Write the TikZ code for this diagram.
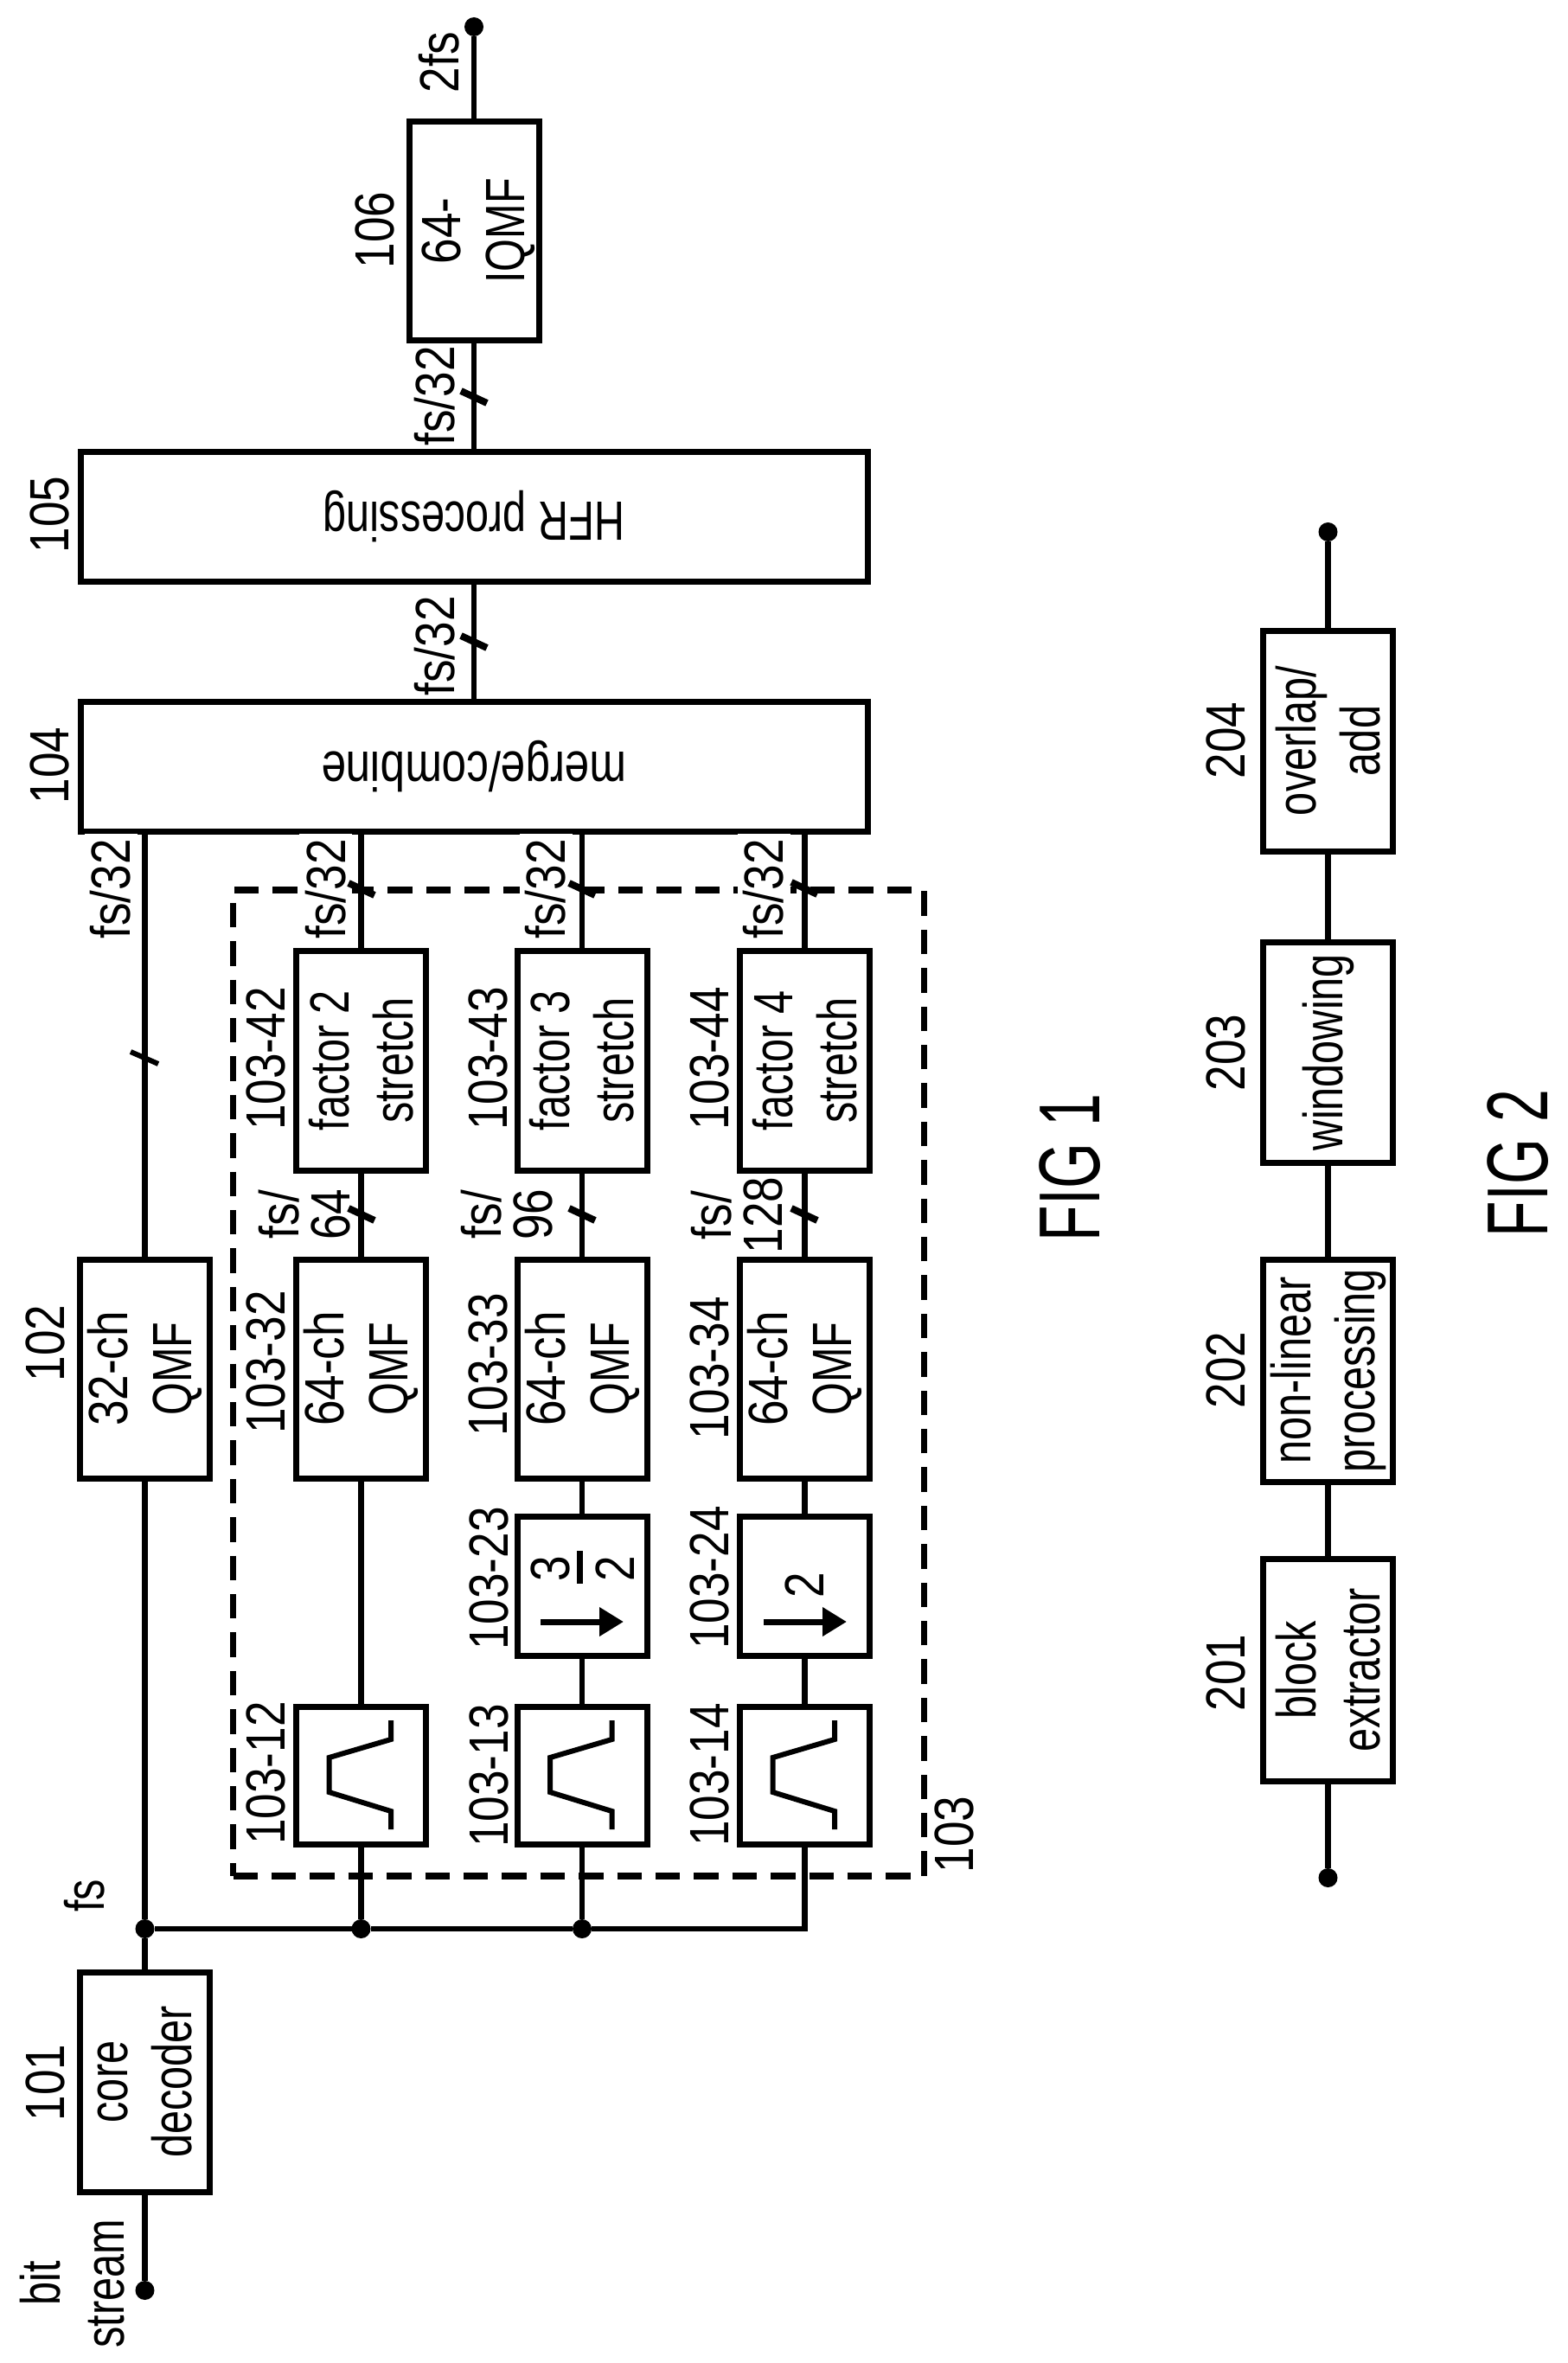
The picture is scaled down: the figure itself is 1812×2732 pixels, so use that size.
\documentclass[tikz,border=0pt]{standalone}
\usepackage{fontspec}
\usepackage{graphicx}
\setmainfont[FakeStretch=0.76]{Liberation Sans}
\newfontfamily\figfont[FakeStretch=0.68]{Liberation Sans}
\newfontfamily\numf[FakeStretch=0.83]{Liberation Sans}
\newfontfamily\widef[FakeStretch=0.8]{Liberation Sans}
\usetikzlibrary{arrows.meta}
\tikzset{
  wire/.style={line width=6.5pt},
  slashline/.style={line width=8pt},
  thinslash/.style={line width=6pt},
  rbox/.style={draw,line width=7pt,rotate=90,align=center,inner sep=0pt,outer sep=0pt,
    minimum height=150pt,font=\fontsize{64}{74}\selectfont},
  hbox/.style={draw,line width=7pt,inner sep=0pt,outer sep=0pt,minimum width=910pt,minimum height=150pt,
    font=\fontsize{64}{74}\selectfont},
  txtlab/.style={rotate=90,align=center,inner sep=0pt,font=\fontsize{64}{74}\selectfont},
  lab/.style={rotate=90,align=center,inner sep=0pt,font=\fontsize{64}{74}\numf},
  tightlab/.style={rotate=90,align=center,inner sep=0pt,font=\fontsize{64}{59.5}\numf},
  masked/.style={lab,fill=white,inner xsep=6pt,inner ysep=7pt},
  figlab/.style={rotate=90,inner sep=0pt,font=\fontsize{100}{110}\figfont},
  dot/.style={circle,fill=black,inner sep=0pt,outer sep=0pt,minimum size=22pt},
  grp/.style={draw,line width=7.5pt,dash pattern=on 28.4pt off 16pt,inner sep=0pt,outer sep=0pt,
    minimum width=799pt,minimum height=1140pt},
  shape line/.style={line width=6pt,miter limit=10},
  down arrow/.style={line width=7pt,-{Triangle[length=28pt,width=32pt]}},
}
\newcommand\slashmk[2]{\draw[slashline] (#1-15,#2-7) -- (#1+15,#2+7);}
\newcommand\bandpass[1]{\draw[shape line,shift={(#1.center)}] (34.5,-63.5) -- (34.5,-41.5) -- (-37,-20.5) -- (-37,19.5) -- (34.5,41.5) -- (34.5,62.5);}
\begin{document}
\begin{tikzpicture}[x=1pt,y=-1pt]
\useasboundingbox (0,0) rectangle (1812,2732);
% group 103
\node[grp] (g103) at (669,1599) {};
% top chain boxes
\node[rbox,minimum width=254pt] (core) at (167.5,2407) {core\\decoder};
\node[rbox,minimum width=253pt] (q102) at (167.5,1582.5) {{\numf 32-ch}\\QMF};
\node[hbox] (merge) at (548,886.5) {\rotatebox{180}{\widef merge/combine}};
\node[hbox] (hfr) at (548,597) {\rotatebox{180}{HFR processing}};
\node[rbox,minimum width=252pt] (iq) at (548,267) {\rule{0pt}{56pt}{\numf 64-}\\IQMF};
% row 2
\node[rbox,minimum width=159pt] (bp12) at (417.5,2052.5) {};
\node[rbox,minimum width=253pt] (q32) at (417.5,1582.5) {{\numf 64-ch}\\QMF};
\node[rbox,minimum width=254pt] (s42) at (417.5,1226) {factor 2\\stretch};
% row 3
\node[rbox,minimum width=159pt] (bp13) at (673,2052.5) {};
\node[rbox,minimum width=161pt] (d23) at (673,1833.5) {};
\node[rbox,minimum width=253pt] (q33) at (673,1582.5) {{\numf 64-ch}\\QMF};
\node[rbox,minimum width=254pt] (s43) at (673,1226) {factor 3\\stretch};
% row 4
\node[rbox,minimum width=159pt] (bp14) at (930.5,2052.5) {};
\node[rbox,minimum width=161pt] (d24) at (930.5,1833.5) {};
\node[rbox,minimum width=253pt] (q34) at (930.5,1582.5) {{\numf 64-ch}\\QMF};
\node[rbox,minimum width=254pt] (s44) at (930.5,1226) {factor 4\\stretch};
% band pass symbols
\bandpass{bp12}
\bandpass{bp13}
\bandpass{bp14}
% resampler contents
\node[lab] (n3) at (636,1813.5) {3};
\draw[line width=7pt] (670.5,1793) -- (670.5,1831);
\node[lab] (n2a) at (711,1813.5) {2};
\draw[down arrow] (625,1875) -- (721,1875);
\node[lab] (n2b) at (930.5,1833) {2};
\draw[down arrow] (883,1875) -- (979,1875);
% terminals and junctions
\node[dot] (in) at (167.5,2648) {};
\node[dot] (j0) at (167.5,2230) {};
\node[dot] (j1) at (417.5,2230) {};
\node[dot] (j2) at (673,2230) {};
\coordinate (busend) at (930.5,2230);
\node[dot] (out) at (548,31) {};
% labels that mask the dashed line
\node[masked] (l1) at (128,1028) {fs/32};
\node[masked] (l2) at (376.5,1028) {fs/32};
\node[masked] (l3) at (631,1028) {fs/32};
\node[masked] (l4) at (883,1028) {fs/32};
% connectors
\draw[wire] (in) -- (core.west);
\draw[wire] (core.east) -- (j0) -- (q102.west);
\draw[wire] (q102.east) -- (q102.east |- merge.south);
\draw[wire] (j0) -- (j1) -- (j2) -- (busend) -- (bp14.west);
\draw[wire] (j1) -- (bp12.west);
\draw[wire] (j2) -- (bp13.west);
\draw[wire] (bp12.east) -- (q32.west);
\draw[wire] (bp13.east) -- (d23.west);
\draw[wire] (d23.east) -- (q33.west);
\draw[wire] (bp14.east) -- (d24.west);
\draw[wire] (d24.east) -- (q34.west);
\draw[wire] (q32.east) -- (s42.west);
\draw[wire] (q33.east) -- (s43.west);
\draw[wire] (q34.east) -- (s44.west);
\draw[wire] (s42.east) -- (s42.east |- merge.south);
\draw[wire] (s43.east) -- (s43.east |- merge.south);
\draw[wire] (s44.east) -- (s44.east |- merge.south);
\draw[wire] (merge.north) -- (hfr.south);
\draw[wire] (hfr.north) -- (iq.west);
\draw[wire] (iq.east) -- (out);
% slashes
\draw[thinslash] (151,1216) -- (183,1230);
\slashmk{418}{1028}
\slashmk{673}{1028}
\slashmk{930}{1027}
\slashmk{418}{1404}
\slashmk{673}{1404}
\slashmk{930}{1404}
\slashmk{548}{459}
\slashmk{548}{742}
% labels
\node[lab] (t101) at (52,2408) {101};
\node[lab] (t102) at (52,1553) {102};
\node[lab] (t104) at (57,885) {104};
\node[lab] (t105) at (57,595) {105};
\node[lab] (t106) at (433,266) {106};
\node[lab] (t103) at (1103,2121) {103};
\node[txtlab] (tfs) at (98,2192) {fs};
\node[txtlab] (tbit) at (84,2640) {bit\\stream};
\node[lab] (t2fs) at (508,72) {2fs};
\node[lab] (tm1) at (503,458) {fs/32};
\node[lab] (tm2) at (503,747) {fs/32};
\node[lab] (t1012) at (307,2050) {103-12};
\node[lab] (t1013) at (565,2053) {103-13};
\node[lab] (t1014) at (820,2052) {103-14};
\node[lab] (t1023) at (565,1825) {103-23};
\node[lab] (t1024) at (820,1824) {103-24};
\node[lab] (t1032) at (307,1575) {103-32};
\node[lab] (t1033) at (564,1578) {103-33};
\node[lab] (t1034) at (820,1582) {103-34};
\node[lab] (t1042) at (307,1224) {103-42};
\node[lab] (t1043) at (564,1224) {103-43};
\node[lab] (t1044) at (820,1224) {103-44};
\node[tightlab] (r64) at (352,1404) {fs/\\64};
\node[tightlab] (r96) at (586,1404) {fs/\\96};
\node[tightlab] (r128) at (852,1405) {fs/\\128};
\node[figlab] (fig1) at (1237,1350) {FIG 1};
% figure 2
\node[rbox,minimum width=257pt] (b201) at (1535.5,1930.5) {block\\extractor};
\node[rbox,minimum width=257pt] (b202) at (1535.5,1584.5) {non-linear\\processing};
\node[rbox,minimum width=255pt] (b203) at (1535.5,1216.5) {windowing};
\node[rbox,minimum width=255pt] (b204) at (1535.5,856.5) {overlap/\\add};
\node[dot] (fin) at (1535.5,2171) {};
\node[dot] (fout) at (1535.5,615) {};
\draw[wire] (fin) -- (b201.west);
\draw[wire] (b201.east) -- (b202.west);
\draw[wire] (b202.east) -- (b203.west);
\draw[wire] (b203.east) -- (b204.west);
\draw[wire] (b204.east) -- (fout);
\node[lab] (t201) at (1417,1934) {201};
\node[lab] (t202) at (1417,1584) {202};
\node[lab] (t203) at (1417,1217) {203};
\node[lab] (t204) at (1417,856) {204};
\node[figlab] (fig2) at (1755,1345) {FIG 2};
\end{tikzpicture}
\end{document}
